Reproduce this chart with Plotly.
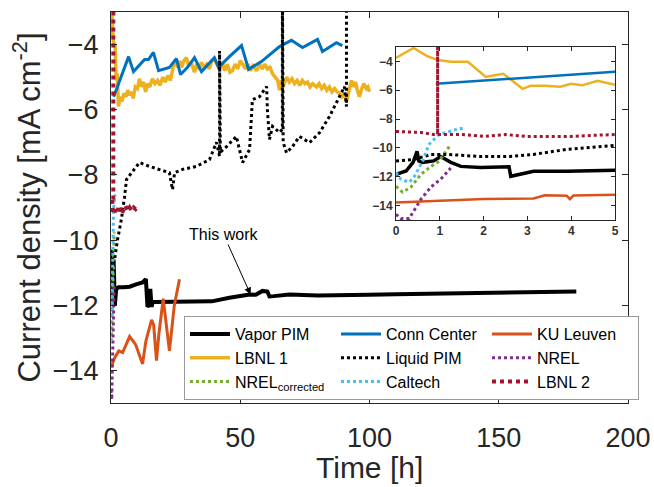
import plotly.graph_objects as go

# ---------------- main panel data ----------------
vapor_x = [0, 0.4, 0.5, 1.0, 1.3, 1.5, 2, 3, 5, 7.2, 10, 12.2, 13.5, 13.8, 14.1, 14.6, 15.2, 15.7, 16.1, 17, 19.9,
           25, 33, 39, 45.8, 50, 53.6, 56, 57.5, 58.6, 60.5, 61.3, 63, 69, 80, 90, 100, 110, 120, 130, 140, 150,
           160, 170, 180]
vapor_y = [-11.9, -10.3, -10.9, -10.6, -11.3, -12.0, -11.5, -11.45, -11.45, -11.43, -11.35, -11.3, -11.2, -11.6,
           -12.05, -12.0, -11.5, -12.05, -11.9, -11.9, -11.9, -11.88, -11.88, -11.88, -11.77, -11.72, -11.67,
           -11.68, -11.6, -11.56, -11.58, -11.73, -11.72, -11.67, -11.7, -11.7, -11.68, -11.66, -11.65, -11.64,
           -11.62, -11.6, -11.58, -11.6, -11.58]

lbnl1_x = [0, 0.4, 0.9, 1.6, 2.0, 2.4, 2.9, 3.5, 4.2, 5, 5.8, 6.5, 7.2, 8, 8.6, 9.4, 10.2, 11, 11.8, 12.6, 13.4,
           14.2, 15, 16, 17, 18, 19, 20, 21, 22, 23, 24, 25, 25.8, 26.6, 27.3, 28.2, 29.2, 30, 31, 32.3, 33.2, 34,
           35, 36, 37, 38, 39, 40, 41, 42, 43, 44, 45, 46, 47, 48, 49, 50, 51, 52, 53, 54, 55, 56.3, 57.5, 58.5,
           59.5, 60.5, 61.5, 62.5, 63.5, 64.5, 65.2, 66, 67, 68, 69, 70, 71, 72, 73, 74, 75, 76, 77, 78, 79.5,
           80.5, 81.5, 82.5, 83.5, 84.5, 85.5, 86.5, 87.5, 88.4, 89.3, 90.2, 91.1, 92, 93, 93.8, 94.6, 95.3, 96.1,
           97, 97.8, 98.8, 99.4, 100]
lbnl1_y = [-3.8, -3.1, -3.9, -4.05, -5.1, -4.9, -5.9, -5.6, -5.75, -5.5, -5.6, -5.4, -5.55, -5.45, -5.65, -5.3,
           -5.35, -5.05, -5.3, -5.15, -5.45, -5.2, -5.3, -5.05, -5.2, -5.1, -5.25, -5.0, -5.15, -4.95, -5.1, -4.7,
           -4.45, -4.7, -4.5, -4.7, -4.5, -4.4, -4.65, -4.55, -4.85, -4.6, -4.75, -4.55, -4.7, -4.6, -4.75, -4.5,
           -4.45, -4.6, -4.75, -4.55, -4.8, -4.6, -4.85, -4.8, -4.6, -4.75, -4.5, -4.6, -4.75, -4.6, -4.8, -4.65,
           -4.8, -4.6, -4.75, -4.6, -4.75, -4.7, -4.9, -5.0, -5.1, -5.4, -5.1, -5.2, -5.0, -5.15, -5.05, -5.2,
           -5.1, -5.25, -5.1, -5.2, -5.15, -5.3, -5.2, -5.3, -5.2, -5.35, -5.25, -5.4, -5.3, -5.45, -5.35, -5.45,
           -5.5, -5.6, -5.5, -5.75, -5.4, -5.1, -5.3, -5.15, -5.4, -5.6, -5.35, -5.2, -5.35, -5.3, -5.45]

conn_x = [1, 2.1, 6.8, 8.7, 13, 14.5, 16.4, 18.4, 22.6, 25.3, 26.9, 29.6, 32.3, 35, 40, 41.6, 45.8, 50.5, 53.2,
          58.2, 65.2, 69.8, 74.1, 79.9, 81.8, 87.2, 89.5]
conn_y = [-5.6, -5.38, -4.37, -4.83, -4.46, -4.46, -4.24, -4.8, -4.7, -4.43, -4.92, -4.7, -4.4, -4.83, -4.4, -4.7,
          -4.37, -4.03, -4.76, -4.52, -4.06, -3.87, -4.09, -3.84, -4.21, -3.94, -4.03]

liquid_x = [0, 0.8, 1.4, 2.5, 4, 5.2, 6, 8, 11, 14.9, 18.8, 22.6, 23.8, 24.6, 27.7, 33, 38.1, 40.8, 42, 42, 42.3,
            44.7, 48.5, 50.9, 53.6, 54.7, 57.4, 60.2, 60.5, 61.3, 62.5, 65.2, 66.3, 66.3, 66.6, 67.9, 70.2, 72.9,
            76.8, 80.7, 84.5, 88.4, 90.3, 91.1, 91.1]
liquid_y = [-10.9, -10.7, -10.6, -10.0, -9.37, -8.7, -8.14, -7.93, -7.62, -7.74, -7.83, -7.93, -8.45, -7.93, -7.83,
            -7.74, -7.53, -7.0, -7.43, -4.2, -7.3, -7.13, -6.82, -7.62, -7.22, -5.69, -5.6, -5.29, -6.0, -6.91,
            -6.51, -6.7, -6.6, -2.0, -7.0, -7.32, -7.13, -6.82, -7.01, -6.7, -6.21, -5.6, -5.29, -5.9, -2.0]

ku_x = [0, 1.5, 3, 4.5, 7.2, 9.5, 12.2, 13.5, 15.7, 16.5, 17.6, 18.5, 20.2, 21.3, 22.6, 24.5, 26.5]
ku_y = [-13.9, -13.6, -13.4, -13.45, -12.96, -13.2, -13.8, -13.1, -12.45, -12.6, -13.7, -12.9, -11.8, -12.5,
        -13.4, -12.0, -11.2]

lbnl2_x = [0.9, 0.9, 0.5, 0.7, 1.2, 1.8, 2.5, 3.2, 4, 4.8, 5.6, 6.4, 7.2, 8, 8.8, 9.5, 10]
lbnl2_y = [-2.0, -8.8, -8.75, -9.15, -9.2, -9.0, -9.1, -8.95, -9.2, -9.05, -8.95, -9.1, -9.0, -9.1, -9.0, -9.05,
           -9.0]

# ---------------- inset data (0-5 h) ----------------
i_vapor_x = [0, 0.23, 0.39, 0.48, 0.52, 0.61, 0.86, 1.02, 1.25, 1.48, 1.93, 2.58, 2.62, 3.14, 3.9, 5]
i_vapor_y = [-11.83, -11.6, -11.0, -10.24, -10.9, -11.0, -10.9, -10.6, -11.0, -11.28, -11.35, -11.3, -11.97,
             -11.62, -11.62, -11.55]
i_lbnl1_x = [0, 0.4, 0.7, 0.95, 1.25, 1.64, 2.05, 2.45, 2.89, 3.07, 3.4, 3.75, 4.0, 4.25, 4.6, 5]
i_lbnl1_y = [-3.76, -3.07, -3.62, -3.9, -4.03, -4.03, -5.07, -4.86, -5.9, -5.69, -5.69, -5.76, -5.55, -5.66,
             -5.34, -5.62]
i_conn_x = [0.91, 5]
i_conn_y = [-5.55, -4.72]
i_liquid_x = [0, 0.41, 0.8, 1.18, 1.93, 2.6, 3.14, 3.9, 5]
i_liquid_y = [-10.9, -10.8, -10.45, -10.45, -10.6, -10.6, -10.45, -10.1, -9.83]
i_ku_x = [0, 1, 2, 3.14, 3.4, 3.9, 3.97, 4.05, 5]
i_ku_y = [-13.78, -13.65, -13.55, -13.5, -13.28, -13.32, -13.55, -13.3, -13.25]
nrel_x = [0.0, 0.11, 0.3, 0.45, 0.57, 0.8, 1.02, 1.25]
nrel_y = [-14.6, -14.9, -14.9, -14.2, -13.55, -12.7, -12.17, -11.4]
nrelc_x = [0, 0.15, 0.34, 0.57, 0.8, 0.98, 1.1, 1.25]
nrelc_y = [-12.66, -13.07, -12.72, -11.83, -11.28, -10.93, -10.4, -9.76]
caltech_x = [0, 0.11, 0.3, 0.41, 0.61, 0.75, 0.98, 1.4, 1.59]
caltech_y = [-11.7, -12.17, -12.38, -12.03, -10.9, -9.76, -9.07, -8.7, -8.6]
i_lbnl2_x = [0, 0.57, 0.86, 0.95, 0.95, 0.95, 1.5, 2.0, 2.5, 3.0, 3.5, 4.0, 4.5, 5.0]
i_lbnl2_y = [-8.86, -8.93, -9.07, -9.07, -2.0, -9.07, -9.07, -9.2, -9.07, -9.2, -9.2, -9.2, -9.13, -9.07]

C_BLACK = "#000000"
C_YEL = "#EDB120"
C_GRN = "#77AC30"
C_BLU = "#0072BD"
C_LBLU = "#4DBEEE"
C_ORG = "#D95319"
C_PUR = "#7E2F8E"
C_RED = "#A2142F"

fig = go.Figure()

# main traces (draw order), legendrank gives row-wise legend order
main = [
    ("Vapor PIM", vapor_x, vapor_y, C_BLACK, "solid", 4, 1),
    ("LBNL 1", lbnl1_x, lbnl1_y, C_YEL, "solid", 3.5, 4),
    ("NREL<sub>corrected</sub>", nrelc_x, nrelc_y, C_GRN, "dot", 3, 7),
    ("Conn Center", conn_x, conn_y, C_BLU, "solid", 3, 2),
    ("Liquid PIM", liquid_x, liquid_y, C_BLACK, "dot", 3, 5),
    ("Caltech", caltech_x, caltech_y, C_LBLU, "dot", 3, 8),
    ("KU Leuven", ku_x, ku_y, C_ORG, "solid", 3, 3),
    ("NREL", nrel_x, nrel_y, C_PUR, "dot", 3, 6),
    ("LBNL 2", lbnl2_x, lbnl2_y, C_RED, "dot", 4, 9),
]
for name, x, y, c, d, w, r in main:
    fig.add_trace(go.Scatter(x=x, y=y, mode="lines", name=name, legendrank=r,
                             line=dict(color=c, dash=d, width=w), xaxis="x", yaxis="y"))

inset = [
    (i_vapor_x, i_vapor_y, C_BLACK, "solid", 3.5),
    (i_lbnl1_x, i_lbnl1_y, C_YEL, "solid", 2.5),
    (nrelc_x, nrelc_y, C_GRN, "dot", 3),
    (i_conn_x, i_conn_y, C_BLU, "solid", 2.5),
    (i_liquid_x, i_liquid_y, C_BLACK, "dot", 3),
    (caltech_x, caltech_y, C_LBLU, "dot", 3),
    (i_ku_x, i_ku_y, C_ORG, "solid", 2.5),
    (nrel_x, nrel_y, C_PUR, "dot", 3),
    (i_lbnl2_x, i_lbnl2_y, C_RED, "dot", 3),
]
for x, y, c, d, w in inset:
    fig.add_trace(go.Scatter(x=x, y=y, mode="lines", showlegend=False,
                             line=dict(color=c, dash=d, width=w), xaxis="x2", yaxis="y2"))

AX = "#262626"
FONT = "Liberation Sans, Arial, sans-serif"

fig.update_layout(
    width=654, height=487,
    margin=dict(l=111, r=26, t=12, b=84, autoexpand=False),
    paper_bgcolor="white", plot_bgcolor="white",
    font=dict(family=FONT, color=AX),
    xaxis=dict(range=[0, 200], tickvals=[0, 50, 100, 150, 200], ticks="inside", ticklen=6, tickcolor=AX,
               showline=True, linecolor=AX, linewidth=1, mirror="ticks", showgrid=False, zeroline=False,
               automargin=False,
               tickfont=dict(size=27, color=AX), ticklabelstandoff=11),
    yaxis=dict(range=[-15, -3], tickvals=[-4, -6, -8, -10, -12, -14], ticks="inside", ticklen=6, tickcolor=AX,
               showline=True, linecolor=AX, linewidth=1, mirror="ticks", showgrid=False, zeroline=False,
               automargin=False,
               tickfont=dict(size=27, color=AX), ticklabelstandoff=6,
               title=dict(text="Current density [mA cm<sup>-2</sup>]", font=dict(size=31, color=AX), standoff=2)),
    xaxis2=dict(domain=[0.5513, 0.9749], anchor="y2", range=[0, 5], tickvals=[0, 1, 2, 3, 4, 5],
                ticks="inside", ticklen=4, tickcolor=AX, showline=True, linecolor=AX, linewidth=1,
                mirror="ticks", showgrid=False, zeroline=False, automargin=False,
                tickfont=dict(size=12, color="#333333", weight="bold")),
    yaxis2=dict(domain=[0.468, 0.9105], anchor="x2", range=[-15, -3], tickvals=[-4, -6, -8, -10, -12, -14],
                ticks="inside", ticklen=4, tickcolor=AX, showline=True, linecolor=AX, linewidth=1,
                mirror="ticks", showgrid=False, zeroline=False, automargin=False,
                tickfont=dict(size=12, color="#333333", weight="bold")),
    legend=dict(orientation="h", x=0.1412, y=0.2225, xanchor="left", yanchor="top",
                bgcolor="white", bordercolor="#999999", borderwidth=1,
                font=dict(size=16, color="#000000"), entrywidth=96, entrywidthmode="pixels",
                itemwidth=40, tracegroupgap=0),
    annotations=[
        dict(x=54, y=-11.67, xref="x", yref="y", text="This work", showarrow=True,
             ax=-27, ay=-60, arrowhead=2, arrowsize=1.4, arrowwidth=1, arrowcolor="#000000",
             font=dict(size=16, color="#000000")),
        dict(x=0.5, y=-0.166, xref="paper", yref="paper", text="Time [h]", showarrow=False,
             xanchor="center", yanchor="middle", font=dict(size=30, color=AX)),
    ],
)

fig.write_html("out.html")
